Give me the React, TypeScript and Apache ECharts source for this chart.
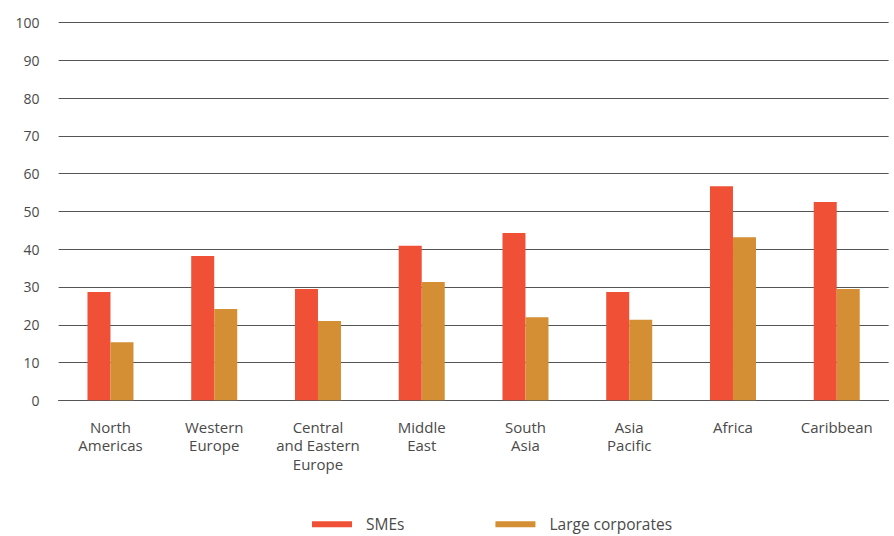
import React, { useEffect, useRef } from "react";
import * as echarts from "echarts";

const categories = [
  "North\nAmericas",
  "Western\nEurope",
  "Central\nand Eastern\nEurope",
  "Middle\nEast",
  "South\nAsia",
  "Asia\nPacific",
  "Africa",
  "Caribbean",
];
const smes = [28.7, 38.2, 29.5, 40.9, 44.3, 28.7, 56.7, 52.5];
const largeCorporates = [15.4, 24.2, 21.0, 31.3, 22.0, 21.3, 43.2, 29.5];
const seriesNames = ["SMEs", "Large corporates"];

const FONT = "'Open Sans', Lato, sans-serif";
const TEXT = "#4a4a4a";

export default function App() {
  const ref = useRef<HTMLDivElement>(null);
  useEffect(() => {
    document.body.style.margin = "0";
    const chart = echarts.init(ref.current!, null, { renderer: "svg" });
    chart.setOption({
      animation: false,
      backgroundColor: "#ffffff",
      grid: { left: 58.6, right: 5.4, top: 22.6, bottom: 135.7, containLabel: false },
      legend: {
        left: 312,
        top: 514.3,
        padding: 0,
        icon: "rect",
        itemWidth: 40,
        itemHeight: 6,
        itemGap: 91,
        textStyle: { fontFamily: FONT, fontSize: 15.5, color: TEXT, lineHeight: 20, padding: [0, 0, 0, 9] },
        data: seriesNames,
      },
      xAxis: {
        type: "category",
        data: categories,
        axisLine: { show: true, lineStyle: { color: "#555", width: 1 } },
        axisTick: { show: false },
        axisLabel: {
          interval: 0,
          margin: 17.4,
          fontFamily: FONT,
          fontSize: 15,
          lineHeight: 18.5,
          color: TEXT,
          align: "center",
        },
      },
      yAxis: {
        type: "value",
        min: 0,
        max: 100,
        interval: 10,
        axisLine: { show: false },
        axisTick: { show: false },
        axisLabel: { margin: 19, fontFamily: FONT, fontSize: 14, color: TEXT },
        splitLine: { lineStyle: { color: "#555", width: 1 } },
      },
      series: [
        {
          name: seriesNames[0],
          type: "bar",
          data: smes,
          barWidth: 23,
          barGap: "0%",
          itemStyle: { color: "#EF5036" },
        },
        {
          name: seriesNames[1],
          type: "bar",
          data: largeCorporates,
          barWidth: 23,
          barGap: "0%",
          itemStyle: { color: "#D48E33" },
        },
      ],
    });
    return () => chart.dispose();
  }, []);
  return <div ref={ref} style={{ width: 894, height: 536 }} />;
}
